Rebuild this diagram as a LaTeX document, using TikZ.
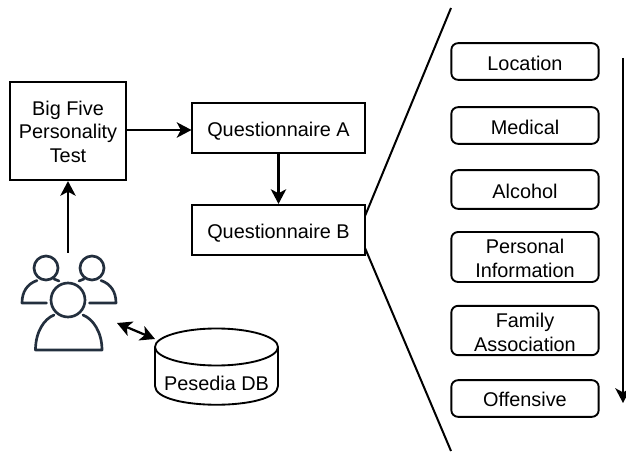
\documentclass[tikz,border=0pt]{standalone}
\usepackage{fontspec}
\setmainfont{Liberation Sans}
\usetikzlibrary{arrows.meta}
\definecolor{iconcol}{HTML}{232F3E}
\newcommand{\nudge}[1]{\rule{0pt}{#1pt}}
\tikzset{
  px/.style={x=0.75pt,y=-0.75pt},
  txt/.style={font=\fontsize{14.9}{17.6}\selectfont},
  cattxt/.style={font=\fontsize{14.9}{18}\selectfont},
  flowbox/.style={draw=black,line width=1.6pt,inner sep=0pt,align=center,txt},
  catbox/.style={flowbox,cattxt,line width=1.4pt,rounded corners=5pt,minimum width=110.5pt},
  link/.style={line width=1.7pt,-{Stealth[length=11pt,width=11.5pt,inset=3pt]}},
  biglink/.style={line width=1.7pt,{Stealth[length=11pt,width=11.5pt,inset=3pt]}-{Stealth[length=11pt,width=11.5pt,inset=3pt]}},
  fan/.style={line width=1.5pt},
  icon/.style={draw=iconcol,line width=2pt,line cap=round,line join=round}
}
\begin{document}
\begin{tikzpicture}[px]
\useasboundingbox (0,0) rectangle (626,453);
% boxes
\node[flowbox,minimum width=87pt,minimum height=73.5pt] (big) at (68,131) {\nudge{12}Big Five\\Personality\\Test};
\node[flowbox,minimum width=129.75pt,minimum height=37.5pt] (qa) at (278.5,128) {\nudge{15.5}Questionnaire A};
\node[flowbox,minimum width=129.75pt,minimum height=37.5pt] (qb) at (278.5,230) {\nudge{15.5}Questionnaire B};
\node[catbox,minimum height=27.5pt] (loc) at (525,61.5) {\nudge{13.8}Location};
\node[catbox,minimum height=27.5pt] (med) at (525,125.5) {\nudge{13.8}Medical};
\node[catbox,minimum height=29pt] (alc) at (525,189.5) {\nudge{13.8}Alcohol};
\node[catbox,minimum height=37.5pt] (per) at (525,257) {\nudge{13}Personal\\Information};
\node[catbox,minimum height=37pt] (fam) at (525,330.5) {\nudge{13}Family\\Association};
\node[catbox,minimum height=27.5pt] (off) at (525,398.5) {\nudge{12}Offensive};
% people icon
\node[inner sep=0pt,minimum width=69pt,minimum height=73pt] (people) at (68,301.5) {};
\draw[icon] (68,300) circle (17);
\draw[icon] (54,315) .. controls (44,319) and (35.5,332) .. (35.5,350) -- (102,350) .. controls (102,332) and (93,319) .. (83,315);
\draw[icon] (46,268) circle (12);
\draw[icon] (92,268) circle (12);
\draw[icon] (46.5,303) -- (22,303) .. controls (22,292) and (27,284) .. (37,280.5);
\draw[icon] (89.5,303) -- (116,303) .. controls (116,292) and (111,284) .. (101,280.5);
\draw[icon] (54,279) -- (59,281);
\draw[icon] (84,279) -- (79,281);
% database
\draw[line width=1.4pt,fill=white] (155,347) -- (155,386) .. controls (155,411) and (278,411) .. (278,386) -- (278,347);
\draw[line width=1.4pt] (216.5,347) ellipse (61.5 and 18.5);
\node[inner sep=0pt,minimum width=92pt,minimum height=58pt,txt] (db) at (216.5,382) {\nudge{12.5}Pesedia DB};
% named free ends
\coordinate (peopleEnd) at (117,323);
\coordinate (dbEnd) at (155,339);
\coordinate (fanTopA) at (365,216);
\coordinate (fanTopB) at (451,8);
\coordinate (fanBotA) at (365,248);
\coordinate (fanBotB) at (451,451);
\coordinate (orderA) at (623,58);
\coordinate (orderB) at (623,403);
\coordinate (bigOut) at (126.5,130);
\coordinate (qaIn) at (191.5,130);
% connectors
\draw[link] (people.north) -- (big.south);
\draw[link] (bigOut) -- (qaIn);
\draw[link] (qa.south) -- (qb.north);
\draw[biglink] (peopleEnd) -- (dbEnd);
\draw[fan] (fanTopA) -- (fanTopB);
\draw[fan] (fanBotA) -- (fanBotB);
\draw[link] (orderA) -- (orderB);
\end{tikzpicture}
\end{document}
